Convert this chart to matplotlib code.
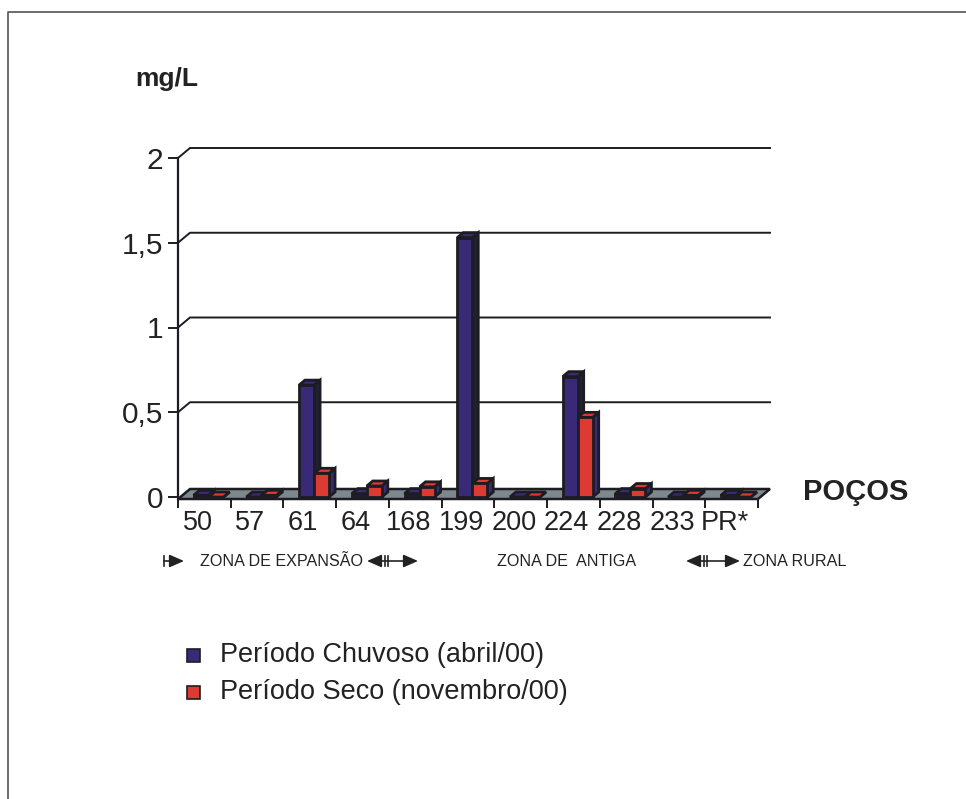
import numpy as np
import matplotlib
matplotlib.use("Agg")
import matplotlib.pyplot as plt
from matplotlib.patches import Rectangle, Polygon, FancyArrowPatch
from matplotlib.lines import Line2D

plt.rcParams['font.family'] = ['Liberation Sans', 'DejaVu Sans']

# data
pocos = ['50', '57', '61', '64', '168', '199', '200', '224', '228', '233', 'PR*']
chuvoso = [0.01, 0.0, 0.66, 0.02, 0.02, 1.53, 0.0, 0.71, 0.02, 0.0, 0.01]
seco = [0.0, 0.01, 0.14, 0.065, 0.06, 0.08, 0.0, 0.47, 0.05, 0.01, 0.0]
series_names = ['Período Chuvoso (abril/00)', 'Período Seco (novembro/00)']
y_ticks = [0, 0.5, 1, 1.5, 2]
y_labels = ['0', '0,5', '1', '1,5', '2']
zonas = ['ZONA DE EXPANSÃO', 'ZONA DE  ANTIGA', 'ZONA RURAL']

BLUE = '#392a77'
RED = '#dc3a33'
EDGE = '#1c1c22'
FLOOR = '#7d898c'
TXT = '#222222'

W, H = 966, 799
fig = plt.figure(figsize=(W / 100, H / 100), dpi=100)


def px(x, y):
    # pixel position (from top-left) -> figure fraction
    return x / W, 1 - y / H


# axes placed so that y=0..2 and the 11 categories fall where the reference has them
ax = fig.add_axes([178 / W, (H - 497) / H, 580 / W, (497 - 158) / H])
ax.set_xlim(-0.5, 10.5)
ax.set_ylim(0, 2)
ax.patch.set_visible(False)
for s in ['top', 'right', 'bottom']:
    ax.spines[s].set_visible(False)
ax.spines['left'].set_color(EDGE)
ax.spines['left'].set_linewidth(1.6)
ax.spines['left'].set_bounds(-0.012, 2)
ax.set_xticks([])
ax.set_yticks(y_ticks)
ax.set_yticklabels(y_labels)
ax.tick_params(axis='y', length=7, width=1.4, color=EDGE, pad=3.5,
               labelsize=21.5, labelcolor=TXT)

# pseudo-3D geometry in data units
ppx = 580 / 11.0
ppy = (497 - 158) / 2.0
DX, DY = 12 / ppx, 10 / ppy      # wall depth
FY = -2 / ppy                    # floor front edge
FDY = 10 / ppy                   # floor depth
BW = 15 / ppx                    # bar width
BDX, BDY = 6 / ppx, 5 / ppy      # bar depth
n = len(pocos)
left, right = -0.5, n - 0.5

# back wall gridlines
for v in y_ticks[1:]:
    ax.plot([left, left + DX, right + DX], [v, v + DY, v + DY],
            color=EDGE, lw=1.4, clip_on=False, zorder=1)

# floor
ax.add_patch(Polygon([(left, FY), (right, FY), (right + DX, FY + FDY),
                      (left + DX, FY + FDY)], closed=True, facecolor=FLOOR,
                     edgecolor=EDGE, lw=1.8, clip_on=False, zorder=2))

# ticks under the floor
ax.vlines(np.arange(left, right + 0.01, 1.0), FY - 9 / ppy, FY,
          color=EDGE, lw=1.4, clip_on=False, zorder=2)


def bar3d(x0, v, face, side):
    x1 = x0 + BW
    kw = dict(edgecolor=EDGE, lw=2.0, clip_on=False, zorder=3, joinstyle='miter')
    ax.add_patch(Polygon([(x1, 0), (x1 + BDX, BDY), (x1 + BDX, v + BDY), (x1, v)],
                         closed=True, facecolor=side, **kw))
    ax.add_patch(Polygon([(x0, v), (x1, v), (x1 + BDX, v + BDY), (x0 + BDX, v + BDY)],
                         closed=True, facecolor=face, **kw))
    ax.add_patch(Rectangle((x0, 0), BW, v, facecolor=face, **kw))


for i in range(n):
    bar3d(i - 0.204, chuvoso[i], BLUE, '#22222e')
    bar3d(i - 0.204 + BW, seco[i], RED, BLUE)

# category labels
for i, lab in enumerate(pocos):
    ax.text(i - 0.13, -26 / ppy, lab, ha='center', va='center', fontsize=19.5,
            color=TXT, clip_on=False)

# titles
fig.text(*px(167, 86), 'mg/L', ha='center', va='baseline', fontsize=19,
         fontweight='bold', color=TXT)
fig.text(*px(856, 492), 'POÇOS', ha='center', va='center', fontsize=21,
         fontweight='bold', color=TXT)

# zone labels with arrows
zy = 561
fig.text(*px(200, zy), zonas[0], ha='left', va='center', fontsize=11.6, color=TXT)
fig.text(*px(497, zy), zonas[1], ha='left', va='center', fontsize=11.6, color=TXT)
fig.text(*px(743, zy), zonas[2], ha='left', va='center', fontsize=11.6, color=TXT)


def arrow(xa, xb, style):
    fig.add_artist(FancyArrowPatch(px(xa, zy), px(xb, zy), transform=fig.transFigure,
                                   arrowstyle=style, mutation_scale=11, lw=1.2,
                                   color=TXT, shrinkA=0, shrinkB=0))


def vbar(x, h=5):
    fig.add_artist(Line2D([x / W, x / W], [1 - (zy - h) / H, 1 - (zy + h) / H],
                          transform=fig.transFigure, color=TXT, lw=1.2))


vbar(164)
arrow(164, 184, '-|>, head_length=0.8, head_width=0.35')
for a, b in [(367, 418), (686, 740)]:
    arrow(a, b, '<|-|>, head_length=0.8, head_width=0.35')
    vbar(a + 18)
    vbar(a + 21)

# legend
for k, (name, col) in enumerate(zip(series_names, [BLUE, RED])):
    yc = 655 + 37 * k
    x0, y0 = px(187, yc + 6.5)
    fig.add_artist(Rectangle((x0, y0), 13 / W, 13 / H, transform=fig.transFigure,
                             facecolor=col, edgecolor=EDGE, lw=1.2))
    fig.text(*px(220, yc), name, ha='left', va='center', fontsize=19.5, color=TXT)

# frame (only left and top edges show in the reference)
fig.add_artist(Line2D([8 / W, 8 / W, 1], [0, 1 - 12 / H, 1 - 12 / H],
                      transform=fig.transFigure, color='#555555', lw=1.2))

fig.savefig('out.png', dpi=100, facecolor='white')
